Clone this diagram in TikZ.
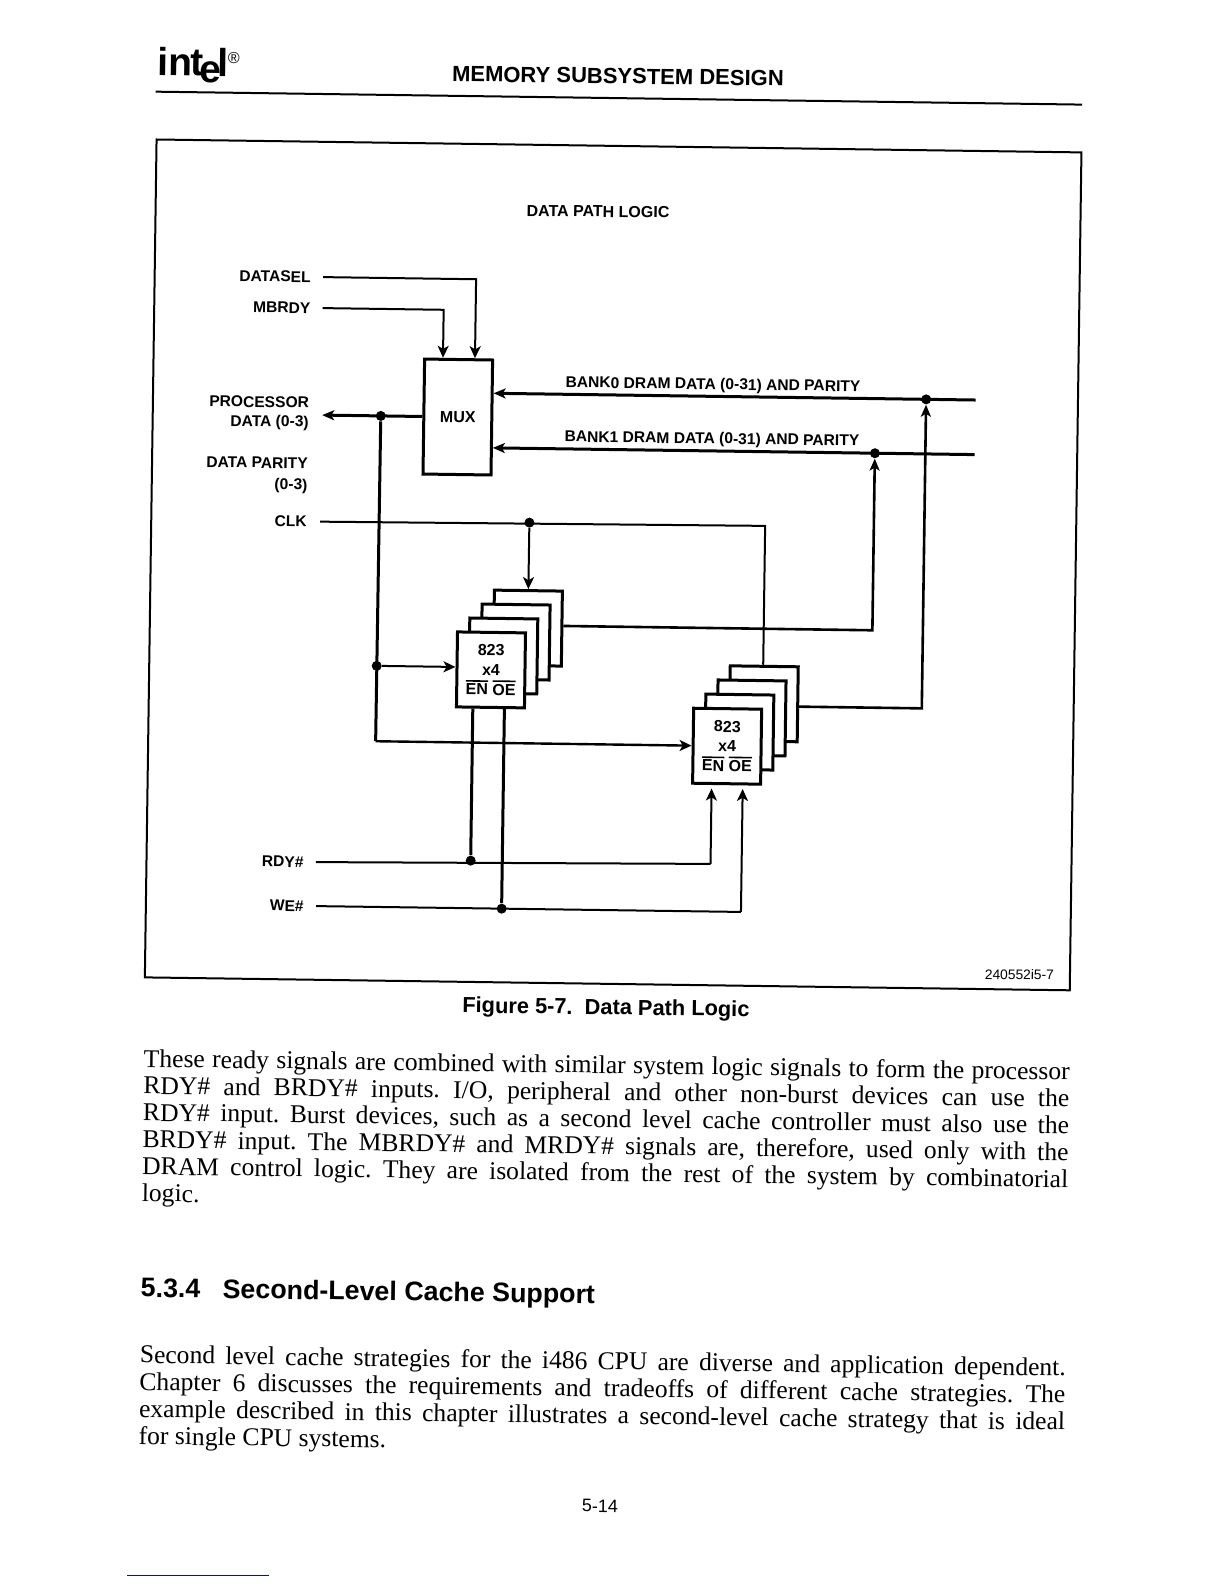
\documentclass[tikz,border=0pt]{standalone}
\usepackage{fontspec}
\setmainfont{Liberation Serif}
\setsansfont{Liberation Sans}
\usetikzlibrary{positioning,arrows.meta}
\definecolor{footblue}{RGB}{15,15,130}
\newcommand{\barred}[1]{\leavevmode\vbox{\hrule height 0.8pt \kern 1pt\hbox{#1}}}
\newcommand{\bodyline}[1]{\makebox[463pt][s]{\frenchspacing #1}}
\tikzset{
  lbl/.style={font=\sffamily\bfseries\fontsize{7.8}{9.6}\selectfont, inner sep=0pt, align=right},
  title/.style={font=\sffamily\bfseries\fontsize{7.8}{10}\selectfont, inner sep=0pt},
  blk/.style={draw, line width=1.5pt, fill=white, inner sep=0pt},
  chip/.style={blk, minimum width=34pt, minimum height=37.5pt, align=center, font=\sffamily\bfseries\fontsize{8}{9.8}\selectfont},
  dot/.style={circle, fill=black, inner sep=0pt, minimum size=5pt},
  sig/.style={line width=1pt, -{Stealth[length=6pt, width=5.5pt, inset=1.6pt]}},
  plain/.style={line width=1pt},
  heavy/.style={line width=1.5pt},
  arr/.style={line width=1.5pt, -{Stealth[length=6pt, width=5pt, inset=1.5pt]}},
  para/.style={font=\fontsize{12.8}{13.45}\selectfont, inner sep=0pt, align=left, anchor=north west},
}
\begin{document}
\begin{tikzpicture}[x=0.5pt, y=-0.5pt]
  \useasboundingbox (0,0) rectangle (1224,1584);
  \coordinate (fa) at (127,1575.5);
  \coordinate (fb) at (269,1575.5);
  \draw[line width=0.8pt, draw=footblue] (fa) -- (fb);
  \begin{scope}[rotate=-0.8, transform shape]
    % page head
    \node[inner sep=0pt, anchor=base west, font=\sffamily\bfseries\fontsize{19.5}{20}\selectfont] (logo) at (158,73) {in\kern-0.6pt t\kern-2pt\raisebox{-3.2pt}{e}\kern-2pt l\kern-0.3pt\raisebox{6.5pt}{\fontsize{8}{8}\selectfont\mdseries ®}};
    \node[inner sep=0pt, font=\sffamily\bfseries\fontsize{11}{13}\selectfont] (head) at (619,67.4) {MEMORY SUBSYSTEM DESIGN};
    \coordinate (ra) at (157,89.5);
    \coordinate (rb) at (1083.5,89.5);
    \draw[line width=1pt] (ra) -- (rb);
    % frame
    \node[draw, line width=1pt, inner sep=0pt, minimum width=462.5pt, minimum height=419pt] (frame) at (621,556.3) {};
    \node[title, font=\sffamily\bfseries\fontsize{8}{10}\selectfont] (dtitle) at (601,203.2) {DATA PATH LOGIC};
    \node[inner sep=0pt, font=\sffamily\fontsize{6.9}{8}\selectfont] (fignum) at (1033,960.3) {240552i5-7};

    % mux and chips
    \node[blk, minimum width=34pt, minimum height=57.5pt, font=\sffamily\bfseries\fontsize{8}{9.6}\selectfont] (mux) at (463.6,410.6) {MUX};
    \foreach \i in {3,2,1} {
      \node[chip] (sa\i) at ({500.3+12.1*\i},{663-14.1*\i}) {};
      \node[chip] (sb\i) at ({737.5+12*\i},{736-14.3*\i}) {};
    }
    \node[chip] (sa0) at (500.3,663) {823\\x4\\\barred{EN} \barred{OE}};
    \node[chip] (sb0) at (737.5,736) {823\\x4\\\barred{EN} \barred{OE}};

    % left labels
    \node[lbl, anchor=east] (dsel) at (315,272.6) {DATASEL};
    \node[lbl, anchor=east] (mbrdy) at (315,303.6) {MBRDY};
    \node[lbl, anchor=east] (proc) at (315,409.4) {PROCESSOR\\DATA (0-3)};
    \node[lbl, anchor=east, font=\sffamily\bfseries\fontsize{7.8}{10.7}\selectfont] (par) at (314.6,471.4) {DATA PARITY\\(0-3)};
    \node[lbl, anchor=east] (clk) at (314.3,517.2) {CLK};
    \node[lbl, anchor=east] (rdy) at (316,857.7) {RDY\#};
    \node[lbl, anchor=east] (we) at (316.7,901.7) {WE\#};

    % junctions
    \node[dot] (jproc) at (386.6,410.6) {};
    \node[dot] (jchip) at (386,660.6) {};
    \node[dot] (jclk) at (536.7,515.2) {};
    \node[dot] (jbk0) at (931.7,386.4) {};
    \node[dot] (jbk1) at (881.2,441) {};
    \node[dot] (jrdy) at (482.7,854) {};
    \node[dot] (jwe) at (514.3,901.6) {};
    \coordinate (bk0end) at (981.3,386.4);
    \coordinate (bk1end) at (981,441);
    \coordinate (busend) at (386,736);
    \coordinate (clkturn) at (772.5,515.2);
    \coordinate (rdyturn) at (722.6,854);
    \coordinate (weturn) at (753.7,901.6);

    % buses to the mux
    \draw[sig] ([xshift=6pt]dsel.east) -| ([xshift=8.2pt]mux.north);
    \draw[sig] ([xshift=6pt]mbrdy.east) -| ([xshift=-7.8pt]mux.north);
    \draw[arr] (mux.west) -- ([xshift=6.5pt]proc.east |- mux.west);
    \draw[arr] (bk0end) -- (mux.east |- bk0end);
    \draw[arr] (bk1end) -- (mux.east |- bk1end);
    \node[title] (lbk0) at (718.4,375.5) {BANK0 DRAM DATA (0-31) AND PARITY};
    \node[title] (lbk1) at (718.1,429.8) {BANK1 DRAM DATA (0-31) AND PARITY};

    % clock
    \draw[plain] ([xshift=6.5pt]clk.east) -- (clkturn) -- (clkturn |- sb3.north);
    \draw[sig] (jclk) -- (sa3.north);

    % data to the chips
    \draw[heavy] (jproc) -- (busend);
    \draw[sig] (jchip) -- (sa0.west |- jchip);
    \draw[sig, line width=1.2pt] (busend) -- (sb0.west |- busend);
    \draw[arr, line width=1.3pt] ([yshift=1.3pt]sa3.east) -| (jbk1);
    \draw[arr, line width=1.3pt] ([yshift=-1.2pt]sb3.east) -| (jbk0);

    % enables
    \draw[heavy] (sa0.south -| jrdy) -- (jrdy);
    \draw[heavy] (sa0.south -| jwe) -- (jwe);
    \draw[plain] ([xshift=6pt]rdy.east) -- (rdyturn);
    \draw[plain] ([xshift=6pt]we.east) -- (weturn);
    \draw[sig] (rdyturn) -- ([yshift=-1.8pt]rdyturn |- sb0.south);
    \draw[sig] (weturn) -- ([yshift=-1.8pt]weturn |- sb0.south);

    % text below the figure
    \node[inner sep=0pt, font=\sffamily\bfseries\fontsize{10.9}{12}\selectfont] (cap) at (620,1000.5) {Figure 5-7.\ \ Data Path Logic};
    \node[para] (ptop) at (158.2,1046.5) {
      \bodyline{These ready signals are combined with similar system logic signals to form the processor}\\
      \bodyline{RDY\# and BRDY\# inputs. I/O, peripheral and other non-burst devices can use the}\\
      \bodyline{RDY\# input. Burst devices, such as a second level cache controller must also use the}\\
      \bodyline{BRDY\# input. The MBRDY\# and MRDY\# signals are, therefore, used only with the}\\
      \bodyline{DRAM control logic. They are isolated from the rest of the system by combinatorial}\\
      logic.};
    \node[inner sep=0pt, anchor=west, font=\sffamily\bfseries\fontsize{13.4}{15}\selectfont] (sect) at (158.4,1288) {5.3.4\ \ \ Second-Level Cache Support};
    \node[para, font=\fontsize{12.8}{13.55}\selectfont] (pbot) at (158.4,1342.5) {
      \bodyline{Second level cache strategies for the i486 CPU are diverse and application dependent.}\\
      \bodyline{Chapter 6 discusses the requirements and tradeoffs of different cache strategies. The}\\
      \bodyline{example described in this chapter illustrates a second-level cache strategy that is ideal}\\
      for single CPU systems.};
    \node[inner sep=0pt, font=\sffamily\fontsize{9}{11}\selectfont] (pageno) at (621,1497.6) {5-14};
  \end{scope}
\end{tikzpicture}
\end{document}
